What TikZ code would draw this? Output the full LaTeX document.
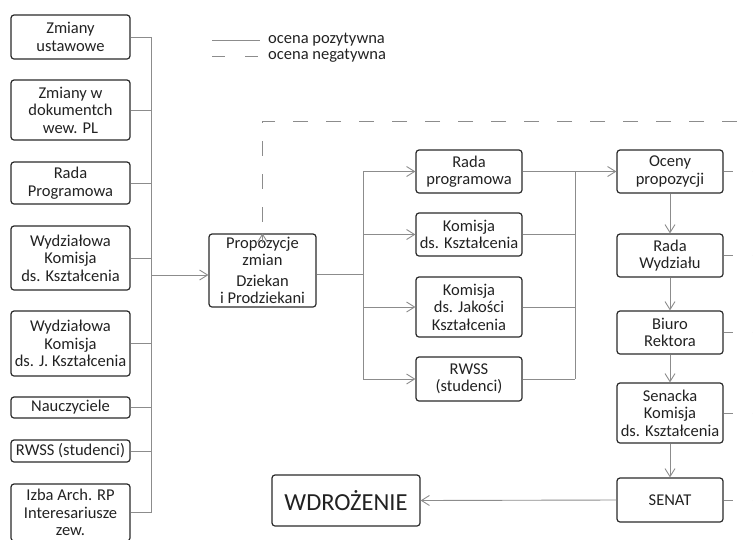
\documentclass[tikz,border=0pt]{standalone}
\usepackage{fontspec}
\setmainfont{Carlito}
\usetikzlibrary{arrows.meta}
\definecolor{boxc}{HTML}{2A2A2A}
\definecolor{linec}{HTML}{8C8C8C}
\definecolor{txtc}{HTML}{222222}
\begin{document}
\begin{tikzpicture}[x=1pt,y=-1pt,
  box/.style={draw=boxc, line width=1.2pt, rounded corners=3pt, inner sep=0pt,
    align=center, text=txtc, font=\fontsize{16.5}{17.5}\selectfont},
  conn/.style={draw=linec, line width=0.9pt},
  arr/.style={conn, -{Straight Barb[length=8pt,width=10pt,line width=0.9pt]}},
  neg/.style={conn, dash pattern=on 15pt off 18pt},
  stub/.style={conn, dash pattern=on 9pt off 20pt},
  lgd/.style={text=txtc, font=\fontsize{16.5}{18}\selectfont, inner sep=0pt, anchor=west}]
\useasboundingbox (0,0) rectangle (753,539);
\begin{scope}
\clip (0,0) rectangle (753,539);
% left column
\node[box, minimum width=119pt, minimum height=44pt] (zu) at (70.5,37) {Zmiany\\ustawowe};
\node[box, minimum width=119pt, minimum height=60pt] (zd) at (70.5,110) {Zmiany w\\dokumentch\\wew. PL};
\node[box, minimum width=119pt, minimum height=42pt] (rp) at (70.5,183) {Rada\\Programowa};
\node[box, minimum width=119pt, minimum height=64pt] (wk) at (70.5,258) {Wydziałowa\\Komisja\\ds. Kształcenia};
\node[box, minimum width=119pt, minimum height=65pt] (wj) at (70.5,343.5) {Wydziałowa\\Komisja\\ds. J. Kształcenia};
\node[box, minimum width=119pt, minimum height=21pt] (na) at (70.5,407.5) {Nauczyciele};
\node[box, minimum width=119pt, minimum height=22pt] (rw) at (70.5,451) {RWSS (studenci)};
\node[box, minimum width=119pt, minimum height=57pt] (iz) at (70.5,512.5) {Izba Arch. RP\\Interesariusze\\zew.};
% centre
\node[box, minimum width=107pt, minimum height=73pt] (pz) at (262.5,270.5) {Propozycje\\zmian\\[3pt]Dziekan\\i Prodziekani};
\node[box, minimum width=106pt, minimum height=43pt] (m1) at (469,171.5) {Rada\\programowa};
\node[box, minimum width=106pt, minimum height=43pt] (m2) at (469,234.5) {Komisja\\ds. Kształcenia};
\node[box, minimum width=106pt, minimum height=60pt] (m3) at (469,307) {Komisja\\ds. Jakości\\Kształcenia};
\node[box, minimum width=106pt, minimum height=44pt] (m4) at (469,379) {RWSS\\(studenci)};
% right column
\node[box, minimum width=106pt, minimum height=43pt] (oc) at (670,171.5) {Oceny\\propozycji};
\node[box, minimum width=106pt, minimum height=43pt] (rwy) at (670,255.5) {Rada\\Wydziału};
\node[box, minimum width=106pt, minimum height=43pt] (br) at (670,332.5) {Biuro\\Rektora};
\node[box, minimum width=106pt, minimum height=60pt] (sk) at (670,413) {Senacka\\Komisja\\ds. Kształcenia};
\node[box, minimum width=106pt, minimum height=44pt] (se) at (670,500) {SENAT};
\node[box, minimum width=148pt, minimum height=51pt, font=\fontsize{24.5}{27}\selectfont] (wd) at (346,500.5) {WDROŻENIE};
% legend
\coordinate (l1a) at (212,40); \coordinate (l1b) at (260,40);
\coordinate (l2a) at (212,56); \coordinate (l2b) at (260,56);
\draw[conn] (l1a) -- (l1b);
\draw[conn, dash pattern=on 13pt off 20pt] (l2a) -- (l2b);
\node[lgd] (t1) at (268,40) {ocena pozytywna};
\node[lgd] (t2) at (268,56) {ocena negatywna};
% left bus
\coordinate (busT) at (151,37);
\coordinate (busB) at (151,512.5);
\draw[conn] (busT) -- (busB);
\foreach \n in {zu,zd,rp,wk,wj,na,rw,iz} {\draw[conn] (\n.east) -- (\n.east -| busT);}
\coordinate (bin) at (151,275);
\draw[arr] (bin) -- (bin -| pz.west);
% centre fan-out
\coordinate (fo) at (363,274);
\draw[conn] (pz.east |- fo) -- (fo);
\draw[conn] (m1.west -| fo) -- (m4.west -| fo);
\foreach \n in {m1,m2,m3,m4} {\draw[arr] (\n.west -| fo) -- (\n.west);}
% fan-in
\coordinate (fi) at (575,171.5);
\foreach \n in {m2,m3,m4} {\draw[conn] (\n.east) -- (\n.east -| fi);}
\draw[conn] (m1.east -| fi) -- (m4.east -| fi);
\draw[arr] (m1.east) -- (oc.west);
% right chain
\draw[arr] (oc.south) -- (rwy.north);
\draw[arr] (rwy.south) -- (br.north);
\draw[arr] (br.south) -- (sk.north);
\draw[arr] (sk.south) -- (se.north);
\draw[arr] (se.west) -- (wd.east);
% negative feedback
\coordinate (ntop) at (262,121);
\coordinate (nright) at (770,121);
\draw[neg] (nright) -- (ntop) -- (ntop |- pz.north);
\draw[conn, -{Straight Barb[length=8pt,width=10pt,line width=0.9pt]}] ([yshift=-10pt]pz.north) -- (pz.north);
\foreach \n in {oc,rwy,br,sk,se} {
  \coordinate (\n R) at (770, 0 |- \n.east);
  \draw[stub] (\n.east) -- (\n R);
}
\end{scope}
\end{tikzpicture}
\end{document}
